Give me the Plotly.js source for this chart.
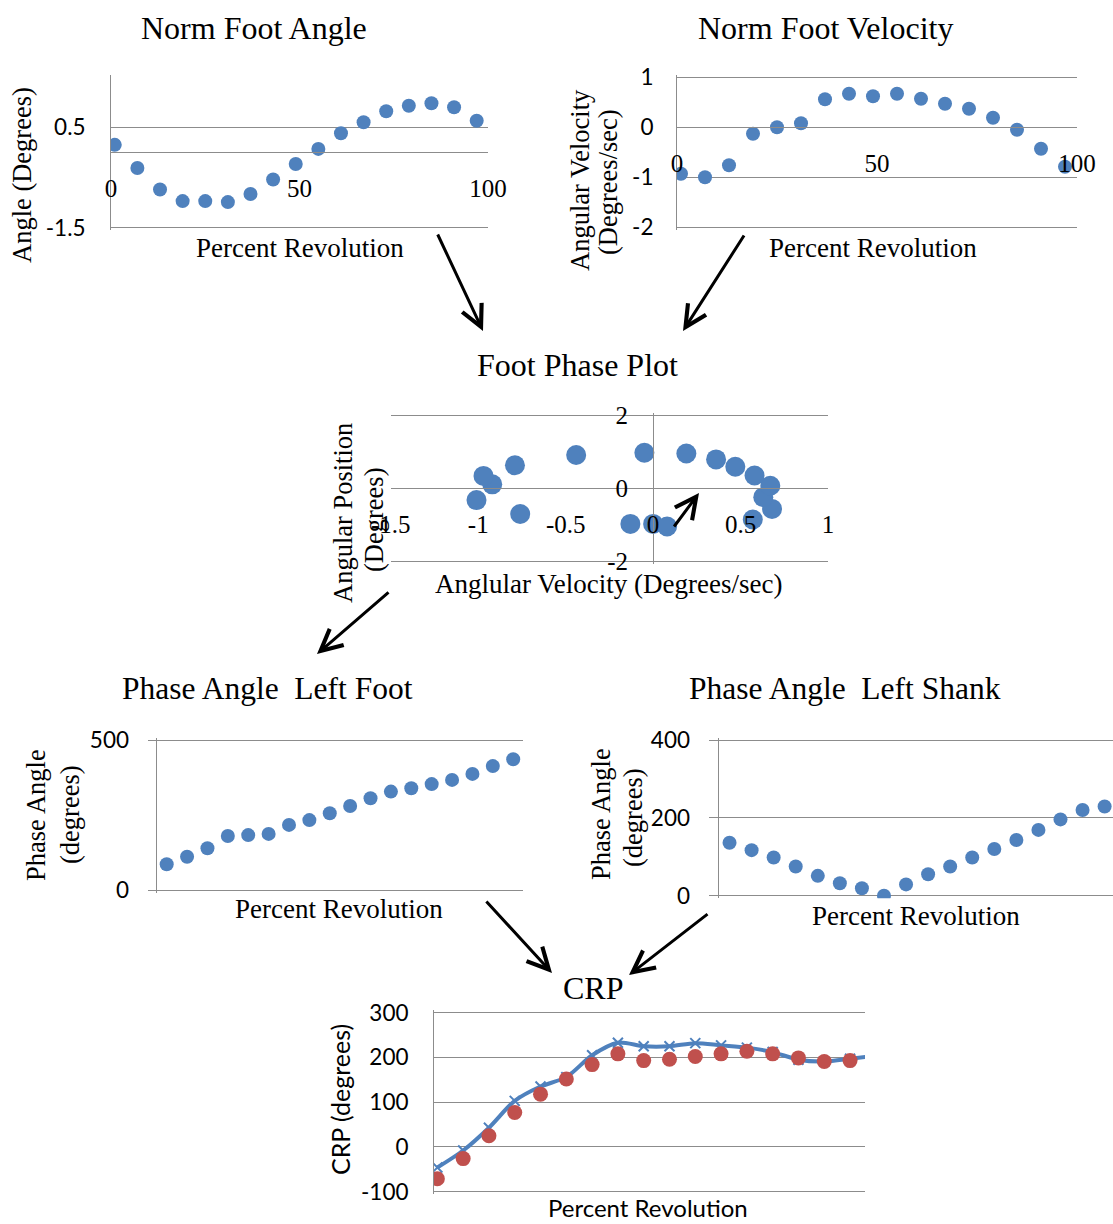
<!DOCTYPE html>
<html>
<head>
<meta charset="utf-8">
<script src="https://cdn.plot.ly/plotly-3.0.1.min.js"></script>
<style>html,body{margin:0;padding:0;background:#fff;}#chart{width:1113px;height:1224px;}</style>
</head>
<body>
<div id="chart"></div>
<script>
// ---------------- DATA ----------------
const percentRev = [1, 7, 13, 19, 25, 31, 37, 43, 49, 55, 61, 67, 73, 79, 85, 91, 97];
const footAngle = [0.15, -0.31, -0.74, -0.97, -0.97, -0.99, -0.83, -0.54, -0.23, 0.07, 0.38, 0.60, 0.82, 0.93, 0.98, 0.90, 0.63];
const footVelocity = [-0.93, -1.0, -0.76, -0.13, 0.0, 0.08, 0.56, 0.67, 0.62, 0.67, 0.57, 0.47, 0.37, 0.19, -0.05, -0.43, -0.79];

const phaseVel = [-0.92, -0.97, -1.01, -0.76, -0.13, 0.0, 0.08, 0.57, 0.68, 0.63, 0.67, 0.58, 0.47, 0.36, 0.19, -0.05, -0.44, -0.79];
const phasePos = [0.11, 0.34, -0.32, -0.70, -0.97, -0.97, -1.04, -0.85, -0.56, -0.24, 0.07, 0.35, 0.59, 0.79, 0.95, 0.97, 0.91, 0.63];

const sampleIdx = [0, 1, 2, 3, 4, 5, 6, 7, 8, 9, 10, 11, 12, 13, 14, 15, 16, 17];
const leftFootPA = [86, 111, 139, 180, 183, 187, 217, 233, 256, 280, 306, 328, 339, 353, 367, 387, 413, 436];
const leftShankPA = [136, 117, 98, 75, 51, 32, 19, 0, 29, 55, 75, 98, 120, 143, 169, 196, 220, 229];

const crpLine = [-46, -8, 43, 103, 135, 156, 205, 233, 225, 225, 232, 227, 222, 212, 195, 191, 197, 204];
const crpDots = [-71, -26, 25, 77, 118, 152, 184, 208, 193, 196, 202, 208, 214, 208, 199, 191, 193];

const angleTicks = [-1.5, 0.5];
const velTicks = [-2, -1, 0, 1];
const pctTicks = [0, 50, 100];
const phaseXTicks = [-1.5, -1, -0.5, 0, 0.5, 1];
const phaseYTicks = [-2, 0, 2];
const footTicks = [0, 500];
const shankTicks = [0, 200, 400];
const crpTicks = [-100, 0, 100, 200, 300];

// ---------------- LAYOUT HELPERS ----------------
const W = 1113, H = 1224;
const BLUE = '#4F81BD', RED = '#C0504D', GRID = '#8C8C8C';
const SERIF = 'Liberation Serif, Times New Roman, serif';
const SANS = 'Lato, Carlito, Arial, sans-serif';
const fx = p => p / W;
const fy = p => 1 - p / H;
const xdom = (l, r) => [fx(l), Math.min(1, fx(r))];
function yPos(v, rng, t, b) { return fy(b - (v - rng[0]) / (rng[1] - rng[0]) * (b - t)); }
function xPos(v, rng, l, r) { return fx(l + (v - rng[0]) / (rng[1] - rng[0]) * (r - l)); }
// extend a y axis by a few pixels on both ends (same value->pixel mapping),
// so gridlines at the range ends are not dropped as edge lines
const PADPX = 2.5;
function yGeom(g) {
  const e = PADPX * (g.yr[1] - g.yr[0]) / (g.b - g.t);
  return {domain: [fy(g.b + PADPX), fy(g.t - PADPX)], range: [g.yr[0] - e, g.yr[1] + e]};
}
const lbl = vals => vals.map(v => String(v));

const base = {fixedrange: true, zeroline: false, gridcolor: GRID, gridwidth: 1, linecolor: GRID, linewidth: 1, showgrid: false, showline: false, ticks: ''};
const hiddenX = {showticklabels: false, showline: false, showgrid: false, zeroline: false, ticks: '', linecolor: 'rgba(0,0,0,0)'};

// chart geometry (pixels)
const g1 = {l: 111, r: 488, t: 77.1, b: 227.7, xr: [0, 100], yr: [-1.5, 1.5]};
const g2 = {l: 677, r: 1077, t: 77.3, b: 227.3, xr: [0, 100], yr: [-2, 1]};
const g3 = {l: 390.8, r: 828, t: 415, b: 561.7, xr: [-1.5, 1], yr: [-2, 2]};
const g4 = {l: 156.5, r: 523.4, t: 740, b: 890, xr: [-0.5, 17.5], yr: [0, 500]};
const g5 = {l: 718.5, r: 1113, t: 740, b: 895.7, xr: [-0.5, 17.38], yr: [0, 400]};
const g6 = {l: 434, r: 865, t: 1012.7, b: 1191.7, xr: [-0.13, 16.58], yr: [-100, 300]};

const XTF = {family: SERIF, size: 25, color: '#000'};
const YTF = {family: SANS, size: 22.5, color: '#000'};

const layout = {
  width: W, height: H,
  margin: {l: 0, r: 0, t: 0, b: 0},
  paper_bgcolor: '#fff', plot_bgcolor: 'rgba(0,0,0,0)',
  showlegend: false,
  font: {family: SERIF, color: '#000'},
  // chart 1
  xaxis: Object.assign({}, base, {domain: xdom(g1.l, g1.r), range: g1.xr, anchor: 'free', position: yPos(0, g1.yr, g1.t, g1.b), showline: true, tickvals: pctTicks, ticktext: lbl(pctTicks), tickfont: XTF, ticklabelstandoff: 14}),
  yaxis: Object.assign({}, base, yGeom(g1), {anchor: 'x', showgrid: true, showline: true, tickvals: angleTicks, ticktext: lbl(angleTicks), tickfont: YTF, ticklabelstandoff: 20}),
  // chart 2
  xaxis2: Object.assign({}, base, {domain: xdom(g2.l, g2.r), range: g2.xr, anchor: 'free', position: yPos(0, g2.yr, g2.t, g2.b), showline: true, tickvals: pctTicks, ticktext: lbl(pctTicks), tickfont: XTF, ticklabelstandoff: 14}),
  yaxis2: Object.assign({}, base, yGeom(g2), {anchor: 'x2', showgrid: true, showline: true, tickvals: velTicks, ticktext: lbl(velTicks), tickfont: YTF, ticklabelstandoff: 18}),
  // chart 3
  xaxis3: Object.assign({}, base, {domain: xdom(g3.l, g3.r), range: g3.xr, anchor: 'free', position: yPos(0, g3.yr, g3.t, g3.b), showline: true, tickvals: phaseXTicks, ticktext: lbl(phaseXTicks), tickfont: XTF, ticklabelstandoff: 14}),
  yaxis3: Object.assign({}, base, yGeom(g3), {anchor: 'free', position: xPos(0, g3.xr, g3.l, g3.r), showgrid: true, showline: true, tickvals: phaseYTicks, ticktext: lbl(phaseYTicks), tickfont: XTF, ticklabelstandoff: 20}),
  // chart 4
  xaxis4: Object.assign({}, base, hiddenX, {domain: xdom(g4.l, g4.r), range: g4.xr, anchor: 'y4'}),
  yaxis4: Object.assign({}, base, yGeom(g4), {anchor: 'x4', showgrid: true, showline: true, tickvals: footTicks, ticktext: lbl(footTicks), ticks: 'outside', ticklen: 8, tickcolor: GRID, tickfont: YTF, ticklabelstandoff: 14}),
  // chart 5
  xaxis5: Object.assign({}, base, hiddenX, {domain: xdom(g5.l, g5.r), range: g5.xr, anchor: 'y5'}),
  yaxis5: Object.assign({}, base, yGeom(g5), {anchor: 'x5', showgrid: true, showline: true, tickvals: shankTicks, ticktext: lbl(shankTicks), ticks: 'outside', ticklen: 9, tickcolor: GRID, tickfont: YTF, ticklabelstandoff: 14}),
  // chart 6
  xaxis6: Object.assign({}, base, hiddenX, {domain: xdom(g6.l, g6.r), range: g6.xr, anchor: 'y6'}),
  yaxis6: Object.assign({}, base, yGeom(g6), {anchor: 'x6', showgrid: true, showline: true, tickvals: crpTicks, ticktext: lbl(crpTicks), tickfont: YTF, ticklabelstandoff: 20}),
  annotations: []
};

// ---------------- TEXT ----------------
function txt(text, x, y, size, family, angle) {
  layout.annotations.push({text: text, x: fx(x), y: fy(y), xref: 'paper', yref: 'paper', showarrow: false,
    xanchor: 'center', yanchor: 'middle', textangle: angle || 0, font: {family: family || SERIF, size: size, color: '#000'}});
}
// chart titles
txt('Norm Foot Angle', 254, 28, 32);
txt('Norm Foot Velocity', 825, 28, 32);
txt('Foot Phase Plot', 578, 365, 32);
txt('Phase Angle  Left Foot', 267, 688, 31.5);
txt('Phase Angle  Left Shank', 845, 688, 31.5);
txt('CRP', 593, 988, 32);
// axis titles
txt('Angle (Degrees)', 22, 175, 26.5, SERIF, -90);
txt('Percent Revolution', 300, 248, 27);
txt('Angular Velocity', 580, 180, 26.5, SERIF, -90);
txt('(Degrees/sec)', 608, 182, 26.5, SERIF, -90);
txt('Percent Revolution', 873, 248, 27);
txt('Angular Position', 343, 513, 26.5, SERIF, -90);
txt('(Degrees)', 374, 520, 26.5, SERIF, -90);
txt('Anglular Velocity (Degrees/sec)', 608, 584, 27);
txt('Phase Angle', 36, 815, 26.5, SERIF, -90);
txt('(degrees)', 70, 815, 26.5, SERIF, -90);
txt('Percent Revolution', 339, 909, 27);
txt('Phase Angle', 601, 814, 26.5, SERIF, -90);
txt('(degrees)', 633, 818, 26.5, SERIF, -90);
txt('Percent Revolution', 916, 916, 27);
txt('CRP (degrees)', 340, 1100, 25, SANS, -90);
txt('Percent Revolution', 648, 1207, 24, SANS);

// ---------------- ARROWS ----------------
function arrow(x0, y0, x1, y1) {
  layout.annotations.push({text: '', x: fx(x1), y: fy(y1), xref: 'paper', yref: 'paper', showarrow: true,
    ax: x0 - x1, ay: y0 - y1, axref: 'pixel', ayref: 'pixel', arrowhead: 5, arrowsize: 1.4, arrowwidth: 3, arrowcolor: '#000', standoff: 0});
}
arrow(437, 233, 483, 331);
arrow(745, 234, 683, 331);
arrow(673, 528, 699, 493);
arrow(390, 591, 317, 654);
arrow(485, 900, 552, 973);
arrow(709, 913, 629, 975);

// ---------------- TRACES ----------------
const data = [
  {x: percentRev, y: footAngle, xaxis: 'x', yaxis: 'y', type: 'scatter', mode: 'markers', marker: {size: 14, color: BLUE}},
  {x: percentRev, y: footVelocity, xaxis: 'x2', yaxis: 'y2', type: 'scatter', mode: 'markers', marker: {size: 14, color: BLUE}},
  {x: phaseVel, y: phasePos, xaxis: 'x3', yaxis: 'y3', type: 'scatter', mode: 'markers', marker: {size: 20, color: BLUE}},
  {x: sampleIdx, y: leftFootPA, xaxis: 'x4', yaxis: 'y4', type: 'scatter', mode: 'markers', marker: {size: 14, color: BLUE}},
  {x: sampleIdx, y: leftShankPA, xaxis: 'x5', yaxis: 'y5', type: 'scatter', mode: 'markers', marker: {size: 14, color: BLUE}},
  {x: sampleIdx, y: crpLine, xaxis: 'x6', yaxis: 'y6', type: 'scatter', mode: 'lines+markers',
    line: {color: BLUE, width: 4, shape: 'spline', smoothing: 0.8},
    marker: {symbol: 'x-thin-open', size: 10, color: BLUE, line: {color: BLUE, width: 2}}},
  {x: sampleIdx.slice(0, crpDots.length), y: crpDots, xaxis: 'x6', yaxis: 'y6', type: 'scatter', mode: 'markers', marker: {size: 15, color: RED}}
];

Plotly.newPlot('chart', data, layout, {staticPlot: true, displayModeBar: false});
</script>
</body>
</html>
